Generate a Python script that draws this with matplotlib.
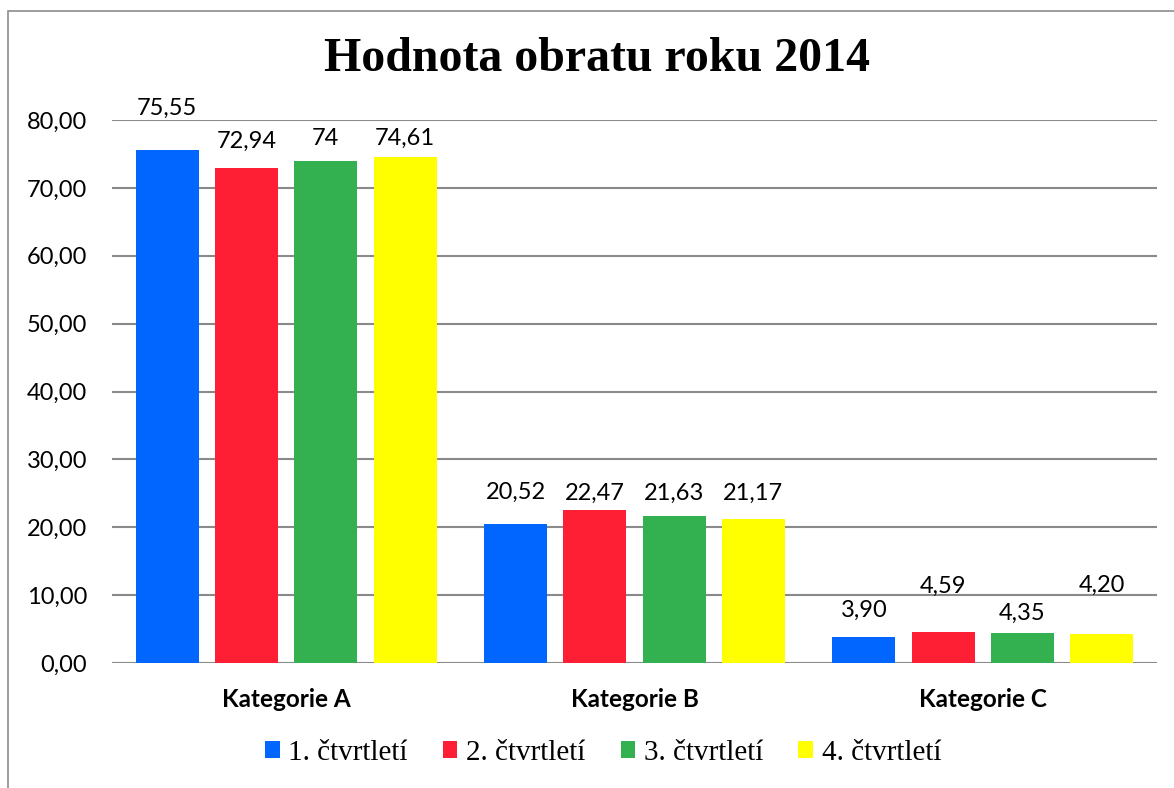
import matplotlib
matplotlib.use("Agg")
import matplotlib.pyplot as plt
from matplotlib.patches import Patch, Rectangle
import numpy as np

categories = ["Kategorie A", "Kategorie B", "Kategorie C"]
series_names = ["1. čtvrtletí", "2. čtvrtletí", "3. čtvrtletí", "4. čtvrtletí"]
q1 = [75.55, 20.52, 3.90]
q2 = [72.94, 22.47, 4.59]
q3 = [74.00, 21.63, 4.35]
q4 = [74.61, 21.17, 4.20]
q1_labels = ["75,55", "20,52", "3,90"]
q2_labels = ["72,94", "22,47", "4,59"]
q3_labels = ["74", "21,63", "4,35"]
q4_labels = ["74,61", "21,17", "4,20"]
yticks = [0, 10, 20, 30, 40, 50, 60, 70, 80]
ytick_labels = ["0,00", "10,00", "20,00", "30,00", "40,00", "50,00", "60,00", "70,00", "80,00"]

series = [q1, q2, q3, q4]
labels = [q1_labels, q2_labels, q3_labels, q4_labels]
colors = ["#0066FF", "#FF1F35", "#33B050", "#FFFF00"]
# label offsets (pixels above bar top), mimicking Excel's label placement
label_offsets = [[42, 31, 26], [27, 17, 46], [22, 23, 20], [18, 26, 49]]

W, H = 1174, 788
fig = plt.figure(figsize=(W / 100, H / 100), dpi=100)
fig.patch.set_facecolor("white")

# chart border
fig.patches.append(Rectangle((8 / W, -0.1), 1.2, 1.1 - 11 / H, transform=fig.transFigure,
                             fill=False, edgecolor="#8c8c8c", linewidth=1.2, zorder=0))

ax = fig.add_axes([112 / W, 1 - 663 / H, (1157 - 112) / W, (663 - 120) / H])
ax.set_facecolor("none")

x = np.arange(len(categories))
bw = 0.181
step = 0.2275
for i, (vals, col) in enumerate(zip(series, colors)):
    xs = x + (i - 1.5) * step
    ax.bar(xs, vals, width=bw, color=col, zorder=3, label=series_names[i])
    for j, (xx, v) in enumerate(zip(xs, vals)):
        ax.annotate(labels[i][j], (xx, v), xytext=(0, label_offsets[i][j]),
                    textcoords="offset pixels", ha="center", va="center",
                    fontsize=17, family="Lato", color="black", zorder=4)

ax.set_xlim(-0.5, 2.5)
ax.set_ylim(0, 80)
ax.set_yticks(yticks)
ax.set_yticklabels(ytick_labels, fontsize=17, family="Lato")
ax.set_xticks(x)
ax.set_xticklabels(categories, fontsize=17.5, family="Lato", fontweight="bold")
ax.tick_params(axis="y", length=0, pad=18)
ax.tick_params(axis="x", length=0, pad=18)
ax.yaxis.grid(True, color="#8a8a8a", linewidth=1.5, zorder=0)
ax.set_axisbelow(True)
for s in ax.spines.values():
    s.set_visible(False)

fig.text(597 / W, 1 - 59 / H, "Hodnota obratu roku 2014", ha="center", va="center",
         fontsize=34.5, fontweight="bold", family="Liberation Serif")

handles = [Patch(facecolor=c, edgecolor="none") for c in colors]
fig.legend(handles, series_names, loc="center", bbox_to_anchor=(603 / W, 1 - 753 / H),
           ncol=4, frameon=False, prop={"family": "Liberation Serif", "size": 21},
           handlelength=0.5, handleheight=0.5, handletextpad=0.3, columnspacing=1.2,
           borderpad=0)

fig.savefig("out.png", dpi=100, facecolor="white")
